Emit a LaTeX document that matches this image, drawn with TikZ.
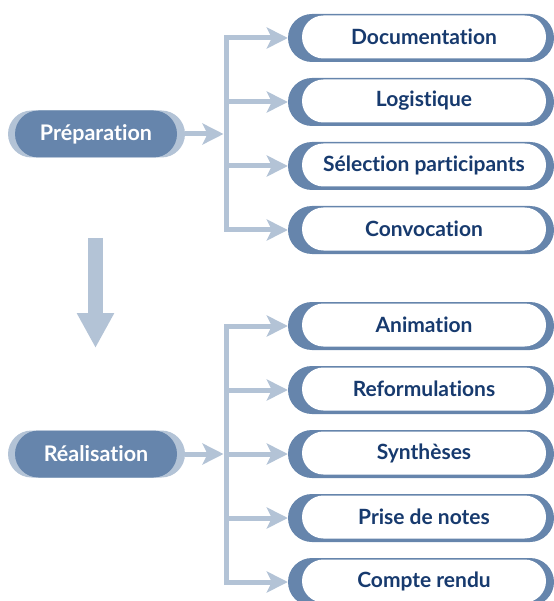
\documentclass[tikz,border=0pt]{standalone}
\usepackage{fontspec}
\setmainfont{Lato}[Ligatures=NoCommon]
\usetikzlibrary{arrows.meta}
\definecolor{paleblue}{HTML}{B3C3D6}
\definecolor{midblue}{HTML}{6685AC}
\definecolor{inkblue}{HTML}{173A6E}
\tikzset{
  phaseback/.style={fill=paleblue, rounded corners=23.5pt, minimum width=177pt, minimum height=47pt, inner sep=0pt},
  phase/.style={fill=midblue, text=white, font=\bfseries\fontsize{21.5}{24}\selectfont, rounded corners=23.5pt, minimum width=162pt, minimum height=47pt, inner sep=0pt},
  taskback/.style={fill=midblue, rounded corners=24pt, minimum width=266pt, minimum height=48pt, inner sep=0pt},
  task/.style={fill=white, text=inkblue, font=\bfseries\fontsize{21}{24}\selectfont, rounded corners=21.5pt, minimum width=244pt, minimum height=43pt, inner sep=0pt},
  spine/.style={paleblue, line width=5pt, line cap=rect},
  branch/.style={paleblue, line width=5pt, -{Stealth[length=21pt,width=21pt,inset=5pt]}}
}
\begin{document}
\begin{tikzpicture}[x=1pt,y=-1pt]
  \useasboundingbox (0,0) rectangle (553,601);
  % phase 1
  \node[phaseback] (pb1) at (96.5,134) {};
  \node[phase] (p1) at (96,134) {Préparation};
  \coordinate (s1) at (226,134);
  \node[taskback] (tb1) at (421,38) {};
  \node[task] (t1) at (424,37) {Documentation};
  \node[taskback] (tb2) at (421,102) {};
  \node[task] (t2) at (424,101) {Logistique};
  \node[taskback] (tb3) at (421,166) {};
  \node[task] (t3) at (424,165) {Sélection participants};
  \node[taskback] (tb4) at (421,230) {};
  \node[task] (t4) at (424,229) {Convocation};
  \draw[spine] (s1 |- tb1) -- (s1 |- tb4);
  \draw[branch,shorten >=2.5pt] (pb1.east) -- (s1);
  \draw[branch] (s1 |- tb1) -- (tb1.west);
  \draw[branch] (s1 |- tb2) -- (tb2.west);
  \draw[branch] (s1 |- tb3) -- (tb3.west);
  \draw[branch] (s1 |- tb4) -- (tb4.west);
  % down arrow
  \coordinate (d0) at (95.5,238);
  \coordinate (d1) at (95.5,348);
  \draw[paleblue, line width=15pt, -{Triangle[length=35pt,width=35pt]}] (d0) -- (d1);
  % phase 2
  \node[phaseback] (pb2) at (96.5,454) {};
  \node[phase] (p2) at (96,454) {Réalisation};
  \coordinate (s2) at (226,454);
  \node[taskback] (tb5) at (421,326) {};
  \node[task] (t5) at (424,325) {Animation};
  \node[taskback] (tb6) at (421,390) {};
  \node[task] (t6) at (424,389) {Reformulations};
  \node[taskback] (tb7) at (421,454) {};
  \node[task] (t7) at (424,453) {Synthèses};
  \node[taskback] (tb8) at (421,518) {};
  \node[task] (t8) at (424,517) {Prise de notes};
  \node[taskback] (tb9) at (421,582) {};
  \node[task] (t9) at (424,581) {Compte rendu};
  \draw[spine] (s2 |- tb5) -- (s2 |- tb9);
  \draw[branch,shorten >=2.5pt] (pb2.east) -- (s2);
  \draw[branch] (s2 |- tb5) -- (tb5.west);
  \draw[branch] (s2 |- tb6) -- (tb6.west);
  \draw[branch] (s2 |- tb7) -- (tb7.west);
  \draw[branch] (s2 |- tb8) -- (tb8.west);
  \draw[branch] (s2 |- tb9) -- (tb9.west);
\end{tikzpicture}
\end{document}
